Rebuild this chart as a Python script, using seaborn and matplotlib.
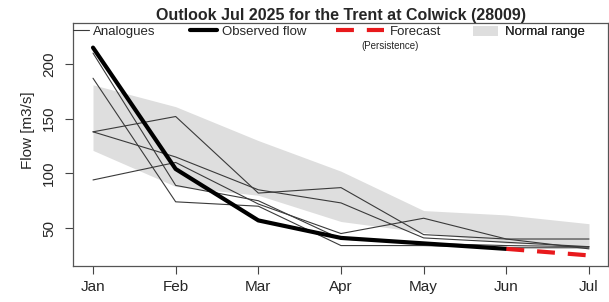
import numpy as np
import pandas as pd
import matplotlib
matplotlib.use("Agg")
import matplotlib.pyplot as plt
from matplotlib.lines import Line2D
from matplotlib.patches import Patch
import seaborn as sns

months = ['Jan', 'Feb', 'Mar', 'Apr', 'May', 'Jun', 'Jul']

# analogue years (flow m3/s, Jan..Jul)
analogue_a = [138, 152, 82, 87, 44, 40, 40]
analogue_b = [138, 115, 85, 73, 41, 37, 33]
analogue_c = [94, 110, 72, 45, 59, 40, 31]
analogue_d = [210, 89, 75, 40, 36, 34, 33]
analogue_e = [187, 74, 70, 34, 34, 32, 32]

observed = [215, 104, 57, 41, 36, 31]
forecast_months = ['Jun', 'Jul']
forecast = [31, 25]

normal_upper = [181, 161, 130, 102, 66, 62, 54]
normal_lower = [121, 88, 80, 56, 46, 36, 34]

sns.set_style('ticks')
plt.rcParams['font.family'] = ['Liberation Sans', 'DejaVu Sans']

fig = plt.figure(figsize=(6.09, 3.02), dpi=100)
ax = fig.add_axes([73/609, 1-265.7/302, 535/609, 242.7/302])

x = np.arange(len(months))

ax.fill_between(x, normal_lower, normal_upper, color='#dedede', lw=0)

rows = []
for name, vals in zip('abcde', [analogue_a, analogue_b, analogue_c, analogue_d, analogue_e]):
    for i, v in enumerate(vals):
        rows.append({'month': i, 'flow': v, 'year': name})
df = pd.DataFrame(rows)
sns.lineplot(data=df, x='month', y='flow', units='year', estimator=None,
             color='#3a3a3a', lw=0.8, ax=ax)

obs = pd.DataFrame({'month': x[:len(observed)], 'flow': observed})
sns.lineplot(data=obs, x='month', y='flow', color='black', lw=3, ax=ax)

fc = pd.DataFrame({'month': [months.index(m) for m in forecast_months], 'flow': forecast})
sns.lineplot(data=fc, x='month', y='flow', color='#e8191c', lw=3, ax=ax)
ax.lines[-1].set_dashes((4.3, 3.1))
ax.lines[-1].set_dash_capstyle('butt')

ax.set_xlim(-0.242, 6.23)
ax.set_ylim(15.6, 237.5)
ax.set_xticks(x)
ax.set_xticklabels(months)
ax.set_yticks([50, 100, 150, 200])
ax.tick_params(axis='both', length=6, width=0.8, color='#444444', labelsize=11)
ax.tick_params(axis='x', pad=4)
ax.tick_params(axis='y', pad=6)
for lab in ax.get_yticklabels():
    lab.set_rotation(90)
    lab.set_va('center')
for sp in ax.spines.values():
    sp.set_color('#555555')
    sp.set_linewidth(0.9)

ax.set_xlabel('')
ax.set_ylabel('Flow [m3/s]', fontsize=11)
ax.yaxis.set_label_coords(-0.071, 0.559)
ax.set_title('Outlook Jul 2025 for the Trent at Colwick (28009)',
             fontsize=11.5, fontweight='bold', pad=1.5)

items = [
    (Line2D([], [], color='#3a3a3a', lw=0.8), 'Analogues', 0.0, 1.2, 0.3),
    (Line2D([], [], color='black', lw=3), 'Observed flow', 0.219, 2.05, 0.38),
    (Line2D([], [], color='#e8191c', lw=3, dashes=(4.3, 3.1), dash_capstyle='butt'),
     'Forecast', 0.492, 3.64, 0.45),
    (Patch(facecolor='#dedede', edgecolor='none'), 'Normal range', 0.748, 1.9, 0.53),
]
for h, lab, xa, hl, tp in items:
    leg = ax.legend([h], [lab], loc='center left', bbox_to_anchor=(xa, 0.963),
                    frameon=False, fontsize=9.5, handlelength=hl, handletextpad=tp,
                    borderpad=0, borderaxespad=0, handleheight=0.83)
    ax.add_artist(leg)

ax.text(0.592, 0.905, '(Persistence)', transform=ax.transAxes, fontsize=7,
        ha='center', va='center')

fig.savefig('out.png', dpi=100)
